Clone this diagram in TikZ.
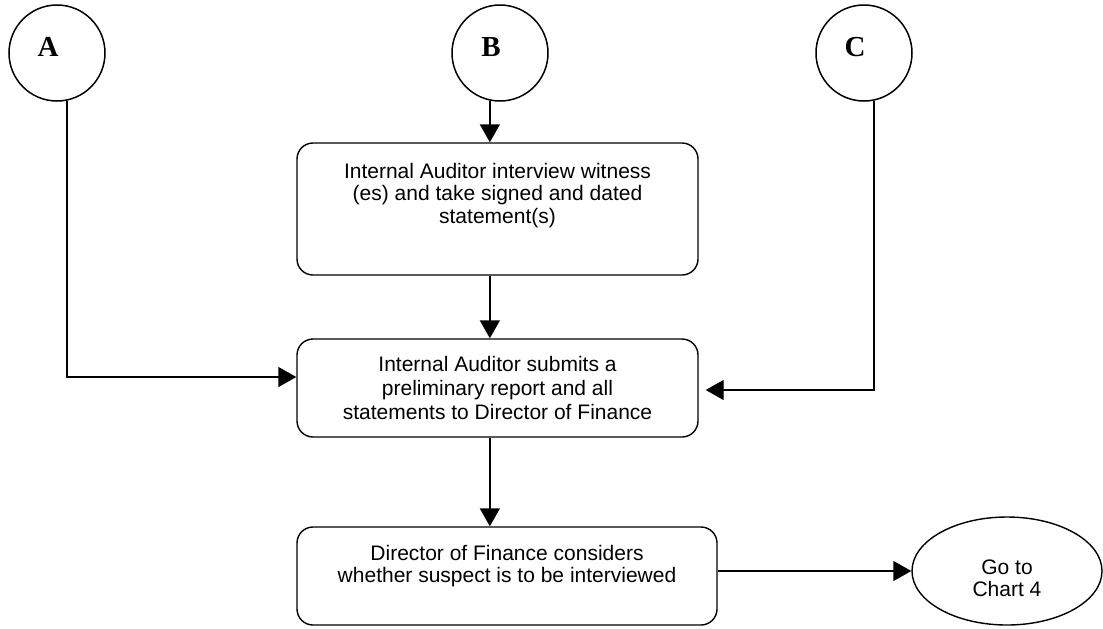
\documentclass[tikz,border=0pt]{standalone}
\usepackage{fontspec}
\setmainfont{Liberation Sans}
\newfontfamily\letterfont{Liberation Serif}
\usetikzlibrary{arrows.meta,shapes.geometric}

\begin{document}
\begin{tikzpicture}[x=0.5pt,y=-0.5pt,
    stepbox/.style={draw,line width=0.7pt,rounded corners=8pt,align=center,
        inner sep=0pt,font=\fontsize{10.5}{11.25}\selectfont},
    entry/.style={draw,circle,line width=0.75pt,minimum size=48pt,inner sep=0pt,
        label={[font=\letterfont\bfseries\fontsize{14.5}{15}\selectfont,
            xshift=-4.5pt,yshift=3pt]center:#1}},
    arr/.style={-{Triangle[length=9pt,width=10pt]},line width=0.7pt}]
    %\draw[help lines] (0,0) grid (1103,628);
    \useasboundingbox (0,0) rectangle (1103,628);

    % entry points
    \node[entry=A] (A) at (57,53) {};
    \node[entry=B] (B) at (500,53) {};
    \node[entry=C] (C) at (864,53) {};

    % steps
    \node[stepbox,minimum width=200.5pt,minimum height=66pt,text depth=16pt]
        (interview) at (497.5,209) {Internal Auditor interview witness\\(es) and take signed and dated\\statement(s)};
    \node[stepbox,minimum width=200.5pt,minimum height=49pt,font=\fontsize{10.5}{12}\selectfont]
        (report) at (497.5,388) {Internal Auditor submits a\\preliminary report and all\\statements to Director of Finance};
    \node[stepbox,minimum width=210pt,minimum height=49pt,text depth=12pt]
        (decide) at (507,576) {Director of Finance considers\\whether suspect is to be interviewed};
    \node[draw,ellipse,line width=0.7pt,minimum width=95pt,minimum height=54pt,inner sep=0pt,
        align=center,font=\fontsize{10.5}{11.25}\selectfont,text height=26pt]
        (chart) at (1007,571) {Go to\\Chart 4};

    % connectors
    \coordinate (Cend) at ([xshift=3.5pt,yshift=-1pt]report.east);
    \draw[arr] (B.-102) -- (B.-102 |- interview.north);
    \draw[arr] (interview.south -| B.-102) -- (report.north -| B.-102);
    \draw[arr] (report.south -| B.-102) -- (decide.north -| B.-102);
    \draw[arr] (A.-78) |- ([yshift=5.5pt]report.west);
    \draw[arr] (C.-78) |- (Cend);
    \draw[arr] (decide.east |- chart.west) -- (chart.west);
\end{tikzpicture}
\end{document}
